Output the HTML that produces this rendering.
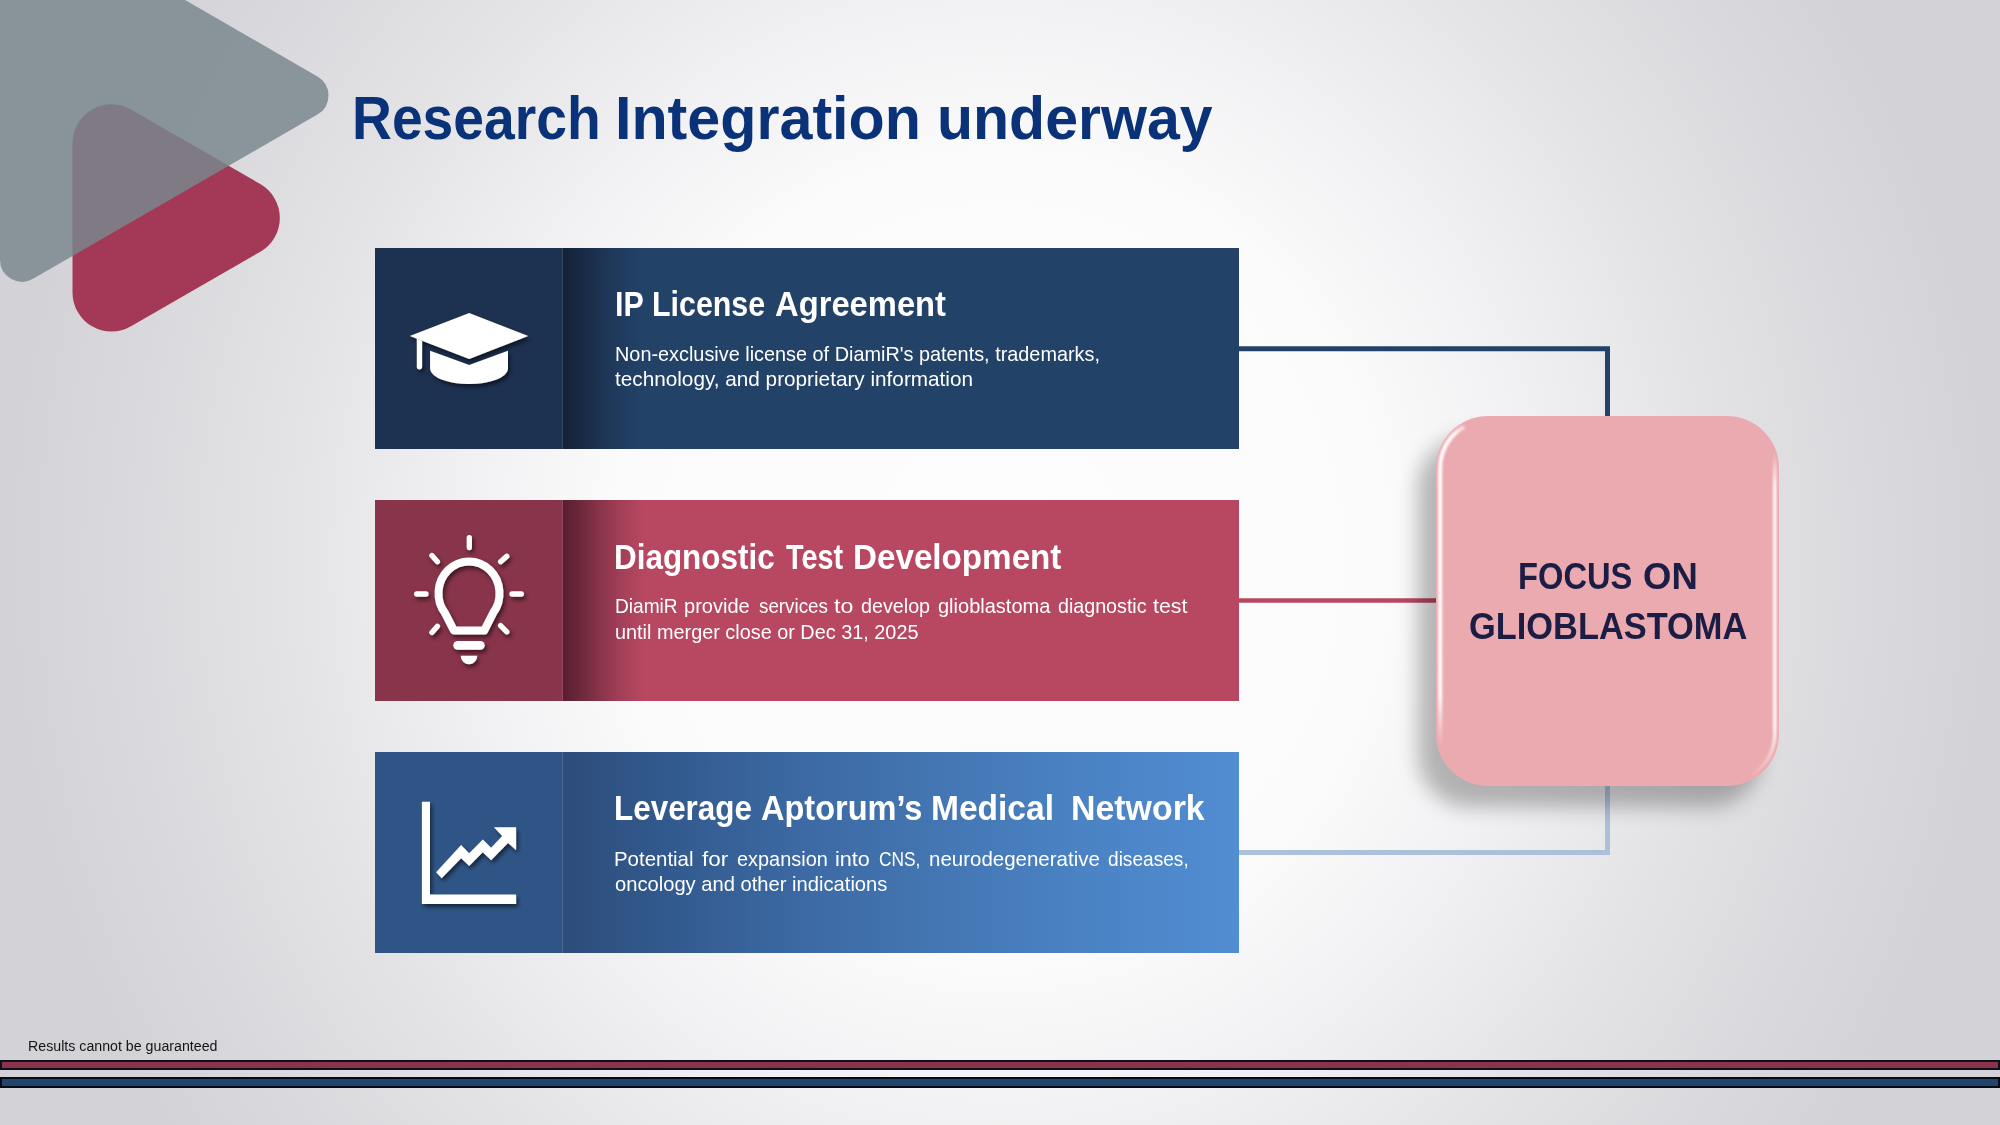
<!DOCTYPE html>
<html>
<head>
<meta charset="utf-8">
<style>
html,body{margin:0;padding:0;}
body{width:2000px;height:1125px;overflow:hidden;position:relative;font-family:"Liberation Sans",sans-serif;
background:radial-gradient(ellipse 1000px 1050px at 1000px 560px,#fdfdfd 0%,#fbfbfc 38%,#f0f0f2 55%,#e3e3e6 72%,#d9d9dd 88%,#d3d3d7 100%);}
.abs{position:absolute;}
.t{position:absolute;white-space:pre;transform-origin:0 0;line-height:1;}
.card{position:absolute;left:375px;width:864px;height:201px;}
.panel{position:absolute;left:0;top:0;width:188px;height:201px;}
.main{position:absolute;left:188px;top:0;width:676px;height:201px;}
.shade{position:absolute;left:0;top:0;width:64px;height:201px;}
</style>
</head>
<body>
<svg class="abs" style="left:0;top:0" width="2000" height="1125">
  <path d="M131.0 109.5 L260.3 184.1 A39.0 39.0 0 0 1 260.3 251.7 L131.0 326.3 A39.0 39.0 0 0 1 72.5 292.6 L72.5 143.2 A39.0 39.0 0 0 1 131.0 109.5 Z" fill="#a33957"/>
  <path d="M33.0 -87.8 L317.4 76.4 A22.0 22.0 0 0 1 317.4 114.6 L33.0 278.8 A22.0 22.0 0 0 1 0.0 259.7 L0.0 -68.7 A22.0 22.0 0 0 1 33.0 -87.8 Z" fill="#7a878e" fill-opacity="0.84"/>
</svg>

<!-- card 1 -->
<div class="card" style="top:247.5px;">
  <div class="panel" style="background:#1d3150;"></div>
  <div class="main" style="background:#234268;">
    <div class="shade" style="width:78px;background:linear-gradient(90deg,#132136 0%,#182a45 25%,#1e3657 55%,rgba(35,66,104,0) 100%);"></div>
  </div>
</div>
<!-- card 2 -->
<div class="card" style="top:499.5px;">
  <div class="panel" style="background:#88344b;"></div>
  <div class="main" style="background:#b84862;">
    <div class="shade" style="width:82px;background:linear-gradient(90deg,#581e30 0%,#6c283b 20%,#893449 45%,#a33f58 70%,rgba(184,72,98,0) 100%);"></div>
  </div>
</div>
<!-- card 3 -->
<div class="card" style="top:751.5px;">
  <div class="panel" style="background:#2f5586;"></div>
  <div class="main" style="background:linear-gradient(90deg,#2d4d7b 0%,#325a8e 16%,#3c69a3 35%,#4274b0 52%,#4a82c3 76%,#528dd2 100%);">
  </div>
</div>

<div class="abs" style="left:562px;top:247.5px;width:1px;height:201px;background:rgba(255,255,255,0.10);"></div>
<div class="abs" style="left:562px;top:499.5px;width:1px;height:201px;background:rgba(255,255,255,0.10);"></div>
<div class="abs" style="left:562px;top:751.5px;width:1px;height:201px;background:rgba(255,255,255,0.12);"></div>
<!-- connectors -->
<svg class="abs" style="left:0;top:0" width="2000" height="1125">
  <polyline points="1239,348.8 1607.5,348.8 1607.5,417" fill="none" stroke="#234268" stroke-width="5"/>
  <line x1="1239" y1="600.5" x2="1437" y2="600.5" stroke="#b84862" stroke-width="4.7"/>
  <polyline points="1239,852.5 1607.5,852.5 1607.5,785" fill="none" stroke="#adc0da" stroke-width="5"/>
</svg>

<!-- icons -->
<svg class="abs" style="left:0;top:0" width="2000" height="1125">
  <defs>
    <filter id="ds" x="-20%" y="-20%" width="150%" height="150%">
      <feDropShadow dx="2" dy="3" stdDeviation="2.2" flood-color="#000" flood-opacity="0.55"/>
    </filter>
  </defs>
  <g fill="#fff" filter="url(#ds)">
    <path d="M469.2 312.9 L528.3 336 L469.2 359.1 L409.7 336 Z"/>
    <path d="M416.8 338.8 L422.1 340.8 L422.1 366.8 A2.65 2.65 0 0 1 416.8 366.8 Z"/>
    <path d="M430.1 350.7 L469.2 364.9 L508 350.7 L508 369.3 A39 15.6 0 0 1 430.1 369.3 Z"/>
  </g>
  <g filter="url(#ds)">
    <g stroke="#fff" stroke-width="5.3" stroke-linecap="round" fill="none">
      <line x1="469.3" y1="537.7" x2="469.3" y2="547.6"/>
      <line x1="416.7" y1="594" x2="426" y2="594"/>
      <line x1="512" y1="594" x2="521.3" y2="594"/>
      <line x1="431.9" y1="555.6" x2="437.4" y2="561.8"/>
      <line x1="506.8" y1="556.2" x2="500.6" y2="561.8"/>
      <line x1="437.4" y1="626.2" x2="431.9" y2="632.4"/>
      <line x1="500.6" y1="625.6" x2="506.8" y2="631.8"/>
    </g>
    <path d="M454 630.6 L484.2 630.6 L493 613.2 A30.5 32 0 1 0 445 613.2 Z" stroke="#fff" stroke-width="8" fill="none" stroke-linejoin="round"/>
    <line x1="457.65" y1="645.35" x2="480.35" y2="645.35" stroke="#fff" stroke-width="8.7" stroke-linecap="round"/>
    <path d="M460.7 655.7 L477.3 655.7 A8.3 8.6 0 0 1 460.7 655.7 Z" fill="#fff"/>
  </g>
  <g fill="#fff" filter="url(#ds)">
    <path d="M421.9 801.7 L430 801.7 L430 894.4 L516.1 894.4 L516.1 903.9 L421.9 903.9 Z"/>
    <path d="M436.1 872.2 L461.1 845 L469.2 853.3 L482.8 839.4 L491.1 847.8 L502.2 835.9 L493.9 827.2 L516.1 827.2 L516.1 850.3 L508.1 843.1 L491.1 860.2 L482.8 852.2 L469.2 866.1 L461.1 858.3 L441.7 878.3 Z"/>
  </g>
</svg>

<!-- focus box -->
<div class="abs" style="left:1436px;top:416px;width:343px;height:370px;border-radius:52px;background:#ebaab0;box-shadow:-18px 21px 20px 0 rgba(0,0,0,0.27);"></div>
<svg class="abs" style="left:0;top:0" width="2000" height="1125">
  <defs>
    <linearGradient id="hl" gradientUnits="userSpaceOnUse" x1="0" y1="418" x2="0" y2="745">
      <stop offset="0" stop-color="#fff" stop-opacity="0"/>
      <stop offset="0.05" stop-color="#fff" stop-opacity="0.98"/>
      <stop offset="0.85" stop-color="#fff" stop-opacity="0.95"/>
      <stop offset="1" stop-color="#fff" stop-opacity="0"/>
    </linearGradient>
    <linearGradient id="hr" gradientUnits="userSpaceOnUse" x1="0" y1="452" x2="0" y2="778">
      <stop offset="0" stop-color="#fff" stop-opacity="0"/>
      <stop offset="0.1" stop-color="#fff" stop-opacity="0.9"/>
      <stop offset="0.85" stop-color="#fff" stop-opacity="0.9"/>
      <stop offset="1" stop-color="#fff" stop-opacity="0"/>
    </linearGradient>
    <filter id="bl" x="-50%" y="-10%" width="200%" height="120%"><feGaussianBlur stdDeviation="0.9"/></filter>
  </defs>
  <path d="M1464.1 426.6 A47.8 47.8 0 0 0 1440.2 468 L1440.2 745" fill="none" stroke="url(#hl)" stroke-width="4" filter="url(#bl)"/>
  <path d="M1774.8 452 L1774.8 734 A47.8 47.8 0 0 1 1750.9 775.4" fill="none" stroke="url(#hr)" stroke-width="3.4" filter="url(#bl)"/>
</svg>

<div class="t" style="left:351.63px;top:88.25px;font-size:60.29px;font-weight:bold;color:#0a3278;transform:scaleX(0.9164);">Research</div>
<div class="t" style="left:614.87px;top:88.25px;font-size:60.29px;font-weight:bold;color:#0a3278;transform:scaleX(0.9822);">Integration</div>
<div class="t" style="left:937.06px;top:88.25px;font-size:60.29px;font-weight:bold;color:#0a3278;transform:scaleX(0.9793);">underway</div>
<div class="t" style="left:614.54px;top:287.48px;font-size:34.49px;font-weight:bold;color:#fff;transform:scaleX(0.8823);">IP</div>
<div class="t" style="left:652.34px;top:287.48px;font-size:34.49px;font-weight:bold;color:#fff;transform:scaleX(0.8807);">License</div>
<div class="t" style="left:774.5px;top:287.48px;font-size:34.49px;font-weight:bold;color:#fff;transform:scaleX(0.9493);">Agreement</div>
<div class="t" style="left:613.93px;top:540.48px;font-size:34.49px;font-weight:bold;color:#fff;transform:scaleX(0.9113);">Diagnostic</div>
<div class="t" style="left:786.0px;top:540.48px;font-size:34.49px;font-weight:bold;color:#fff;transform:scaleX(0.8336);">Test</div>
<div class="t" style="left:853.07px;top:540.48px;font-size:34.49px;font-weight:bold;color:#fff;transform:scaleX(0.9625);">Development</div>
<div class="t" style="left:613.58px;top:791.38px;font-size:34.49px;font-weight:bold;color:#fff;transform:scaleX(0.9112);">Leverage</div>
<div class="t" style="left:760.5px;top:791.38px;font-size:34.49px;font-weight:bold;color:#fff;transform:scaleX(0.9431);">Aptorum’s</div>
<div class="t" style="left:930.56px;top:791.38px;font-size:34.49px;font-weight:bold;color:#fff;transform:scaleX(0.9723);">Medical</div>
<div class="t" style="left:1071.04px;top:791.38px;font-size:34.49px;font-weight:bold;color:#fff;transform:scaleX(0.9824);">Network</div>
<div class="t" style="left:1517.84px;top:557.66px;font-size:37.1px;font-weight:bold;color:#1c1d45;transform:scaleX(0.8813);">FOCUS</div>
<div class="t" style="left:1643.42px;top:557.66px;font-size:37.1px;font-weight:bold;color:#1c1d45;transform:scaleX(0.9839);">ON</div>
<div class="t" style="left:1469.07px;top:608.06px;font-size:37.1px;font-weight:bold;color:#1c1d45;transform:scaleX(0.9277);">GLIOBLASTOMA</div>
<div class="t" style="left:614.55px;top:596.28px;font-size:20.14px;font-weight:normal;color:#fff;transform:scaleX(0.9498);">DiamiR</div>
<div class="t" style="left:684.4px;top:596.28px;font-size:20.14px;font-weight:normal;color:#fff;transform:scaleX(0.9952);">provide</div>
<div class="t" style="left:758.6px;top:596.28px;font-size:20.14px;font-weight:normal;color:#fff;transform:scaleX(0.9343);">services</div>
<div class="t" style="left:833.56px;top:596.28px;font-size:20.14px;font-weight:normal;color:#fff;transform:scaleX(1.15);">to</div>
<div class="t" style="left:860.8px;top:596.28px;font-size:20.14px;font-weight:normal;color:#fff;transform:scaleX(0.98);">develop</div>
<div class="t" style="left:937.7px;top:596.28px;font-size:20.14px;font-weight:normal;color:#fff;transform:scaleX(0.9939);">glioblastoma</div>
<div class="t" style="left:1058.0px;top:596.28px;font-size:20.14px;font-weight:normal;color:#fff;transform:scaleX(0.9773);">diagnostic</div>
<div class="t" style="left:1153.0px;top:596.28px;font-size:20.14px;font-weight:normal;color:#fff;transform:scaleX(1.0595);">test</div>
<div class="t" style="left:614.29px;top:849.38px;font-size:20.14px;font-weight:normal;color:#fff;transform:scaleX(1.015);">Potential</div>
<div class="t" style="left:702.4px;top:849.38px;font-size:20.14px;font-weight:normal;color:#fff;transform:scaleX(1.1184);">for</div>
<div class="t" style="left:737.4px;top:849.38px;font-size:20.14px;font-weight:normal;color:#fff;transform:scaleX(0.9894);">expansion</div>
<div class="t" style="left:835.02px;top:849.38px;font-size:20.14px;font-weight:normal;color:#fff;transform:scaleX(1.075);">into</div>
<div class="t" style="left:878.74px;top:849.38px;font-size:20.14px;font-weight:normal;color:#fff;transform:scaleX(0.8617);">CNS,</div>
<div class="t" style="left:928.98px;top:849.38px;font-size:20.14px;font-weight:normal;color:#fff;transform:scaleX(1.0177);">neurodegenerative</div>
<div class="t" style="left:1108.4px;top:849.38px;font-size:20.14px;font-weight:normal;color:#fff;transform:scaleX(0.9493);">diseases,</div>
<div class="t" style="left:615.01px;top:344.48px;font-size:20.14px;font-weight:normal;color:#fff;transform:scaleX(0.9867);">Non-exclusive license of DiamiR&#39;s patents, trademarks,</div>
<div class="t" style="left:615.0px;top:369.08px;font-size:20.14px;font-weight:normal;color:#fff;transform:scaleX(1.0302);">technology, and proprietary information</div>
<div class="t" style="left:615.01px;top:621.58px;font-size:20.14px;font-weight:normal;color:#fff;transform:scaleX(0.9865);">until merger close or Dec 31, 2025</div>
<div class="t" style="left:615.0px;top:874.18px;font-size:20.14px;font-weight:normal;color:#fff;transform:scaleX(1.0018);">oncology and other indications</div>
<div class="t" style="left:27.72px;top:1040.05px;font-size:13.77px;font-weight:normal;color:#141414;transform:scaleX(1.0313);">Results cannot be guaranteed</div>


<!-- footer -->
<div class="abs" style="left:0;top:1060px;width:1996px;height:6px;background:#8a344c;border:2px solid #120d1f;"></div>
<div class="abs" style="left:0;top:1077px;width:1996px;height:7px;background:#23446b;border:2px solid #030b1a;"></div>
</body>
</html>
